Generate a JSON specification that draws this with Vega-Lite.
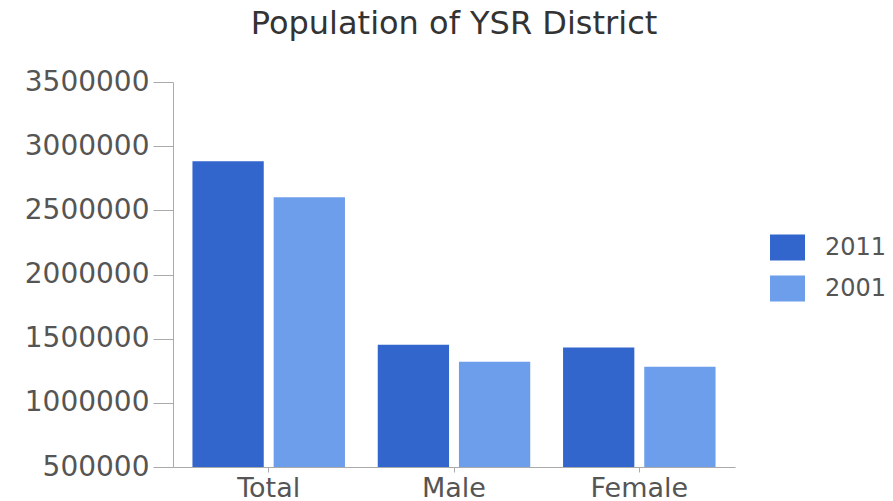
{
  "$schema": "https://vega.github.io/schema/vega-lite/v6.json",
  "autosize": "none",
  "width": 562,
  "height": 385,
  "padding": {"left": 173, "top": 82, "right": 158, "bottom": 34},
  "background": "white",
  "config": {"view": {"stroke": null}, "font": "DejaVu Sans"},
  "title": {
    "text": "Population of YSR District",
    "fontSize": 32,
    "fontWeight": "normal",
    "color": "#333333",
    "anchor": "middle",
    "frame": "group",
    "offset": 27,
    "font": "DejaVu Sans"
  },
  "data": {
    "values": [
      {"category": "Total", "year": "2011", "population": 2882469},
      {"category": "Total", "year": "2001", "population": 2601797},
      {"category": "Male", "year": "2011", "population": 1451777},
      {"category": "Male", "year": "2001", "population": 1319729},
      {"category": "Female", "year": "2011", "population": 1430692},
      {"category": "Female", "year": "2001", "population": 1282068}
    ]
  },
  "mark": {"type": "bar", "clip": true},
  "encoding": {
    "x": {
      "field": "category",
      "type": "nominal",
      "sort": ["Total", "Male", "Female"],
      "scale": {"paddingInner": 0.177, "paddingOuter": 0.105},
      "axis": {
        "title": null,
        "labelAngle": 0,
        "labelFontSize": 27,
        "labelColor": "#555555",
        "labelPadding": 3,
        "tickSize": 5,
        "tickColor": "#aaaaaa",
        "domainColor": "#aaaaaa",
        "labelFont": "DejaVu Sans"
      }
    },
    "xOffset": {
      "field": "year",
      "type": "nominal",
      "sort": ["2011", "2001"],
      "scale": {"paddingInner": 0.122, "paddingOuter": 0}
    },
    "y": {
      "field": "population",
      "type": "quantitative",
      "scale": {"domain": [500000, 3500000], "zero": false, "nice": false},
      "axis": {
        "title": null,
        "values": [500000, 1000000, 1500000, 2000000, 2500000, 3000000, 3500000],
        "format": "d",
        "grid": false,
        "labelFontSize": 28,
        "labelColor": "#555555",
        "labelPadding": 4,
        "tickSize": 20,
        "tickColor": "#aaaaaa",
        "domainColor": "#aaaaaa",
        "labelFont": "DejaVu Sans"
      }
    },
    "y2": {"datum": 500000},
    "color": {
      "field": "year",
      "type": "nominal",
      "sort": ["2011", "2001"],
      "scale": {"domain": ["2011", "2001"], "range": ["#3366cc", "#6d9eeb"]},
      "legend": {
        "title": null,
        "orient": "none",
        "legendX": 597,
        "legendY": 148,
        "padding": 0,
        "symbolType": "M-1,-0.743H1V0.743H-1Z",
        "symbolSize": 1225,
        "symbolStrokeWidth": 0,
        "labelFontSize": 24,
        "labelColor": "#555555",
        "labelOffset": 20,
        "rowPadding": 10,
        "labelFont": "DejaVu Sans"
      }
    }
  }
}
